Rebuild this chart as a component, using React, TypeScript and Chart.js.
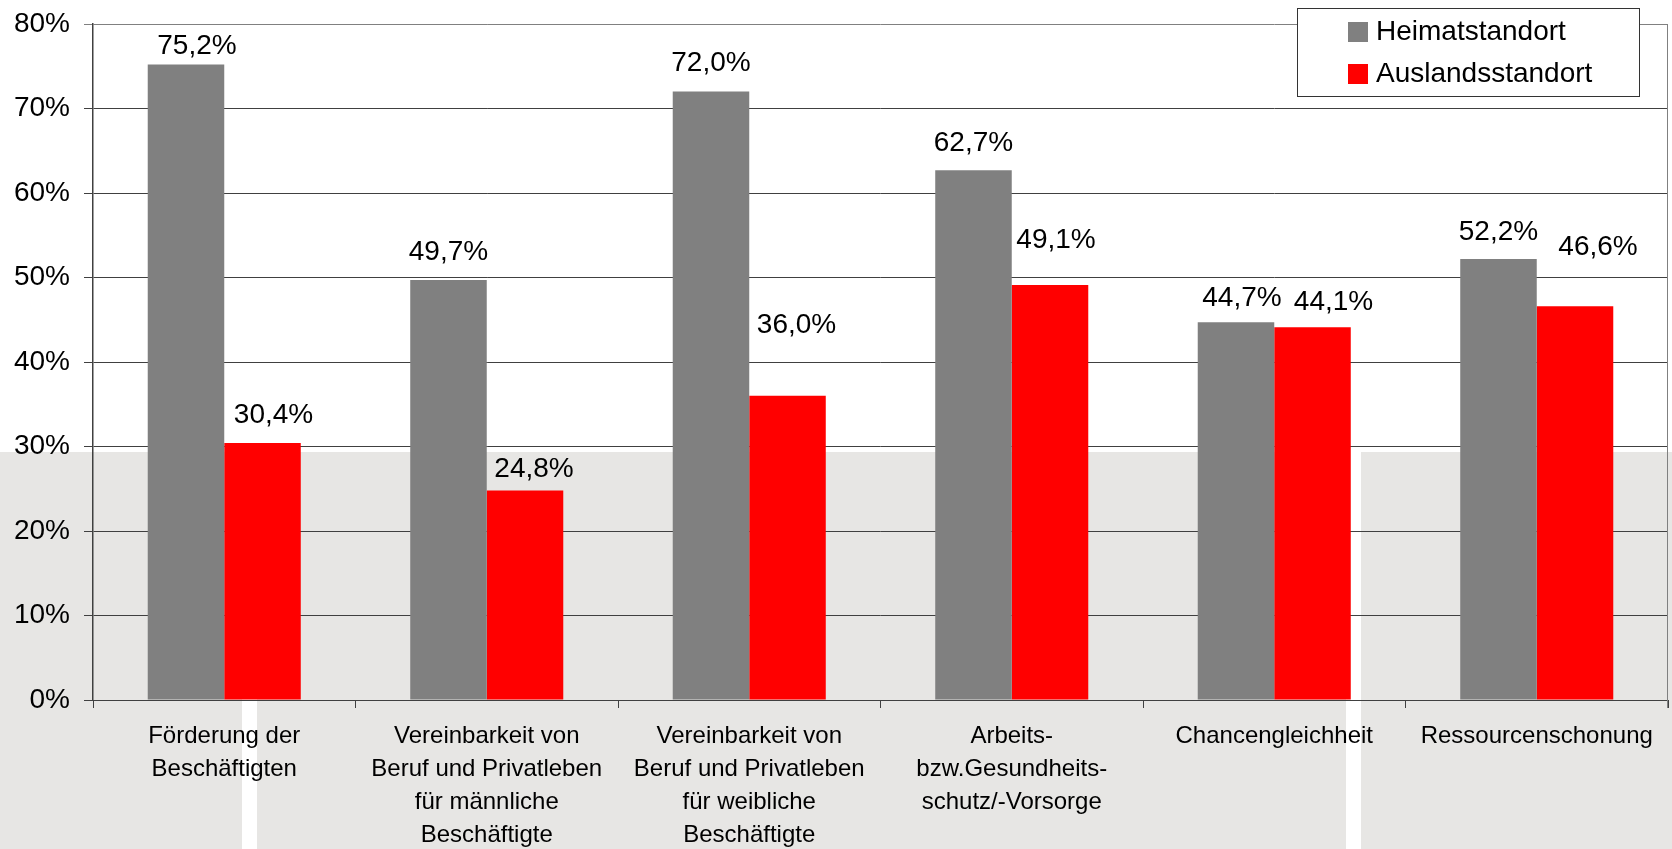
import React, { useEffect, useRef } from 'react';
import { Chart, registerables } from 'chart.js';

Chart.register(...registerables);

// Category labels (multi-line)
const categories: string[][] = [
  ['Förderung der', 'Beschäftigten'],
  ['Vereinbarkeit von', 'Beruf und Privatleben', 'für männliche', 'Beschäftigte'],
  ['Vereinbarkeit von', 'Beruf und Privatleben', 'für weibliche', 'Beschäftigte'],
  ['Arbeits-', 'bzw.Gesundheits-', 'schutz/-Vorsorge'],
  ['Chancengleichheit'],
  ['Ressourcenschonung'],
];

const seriesNames = ['Heimatstandort', 'Auslandsstandort'];

// Shares in percent
const heimatValues = [75.2, 49.7, 72.0, 62.7, 44.7, 52.2];
const auslandValues = [30.4, 24.8, 36.0, 49.1, 44.1, 46.6];

const yMin = 0;
const yMax = 80;
const yStep = 10;

const seriesColors = ['#808080', '#FF0000'];

// Hand-placed value labels: [dx, dy] in px relative to the top centre of each bar
const labelOffsets: [number, number][][] = [
  [[11, -18], [0, -28], [0, -28], [0, -27], [6, -24], [0, -27]],
  [[11, -28], [9, -21], [9, -71], [6, -45], [21, -25], [23, -59]],
];

const FONT = '"Liberation Sans", Arial, Helvetica, sans-serif';

const fmt = (v: number) => v.toFixed(1).replace('.', ',') + '%';

const valueLabels = {
  id: 'valueLabels',
  afterDatasetsDraw(chart: any) {
    const ctx = chart.ctx;
    ctx.save();
    ctx.font = `28px ${FONT}`;
    ctx.fillStyle = '#000';
    ctx.textAlign = 'center';
    ctx.textBaseline = 'middle';
    chart.data.datasets.forEach((ds: any, i: number) => {
      const meta = chart.getDatasetMeta(i);
      meta.data.forEach((bar: any, j: number) => {
        const [dx, dy] = labelOffsets[i][j];
        ctx.fillText(fmt(ds.data[j]), bar.x + dx, bar.y + dy);
      });
    });
    ctx.restore();
  },
};

// Right frame line and the boxed legend in the upper right corner
const frameAndLegend = {
  id: 'frameAndLegend',
  afterDraw(chart: any) {
    const ctx = chart.ctx;
    const area = chart.chartArea;
    ctx.save();
    ctx.strokeStyle = '#808080';
    ctx.lineWidth = 1;
    ctx.beginPath();
    ctx.moveTo(Math.round(area.right) - 0.5, area.top);
    ctx.lineTo(Math.round(area.right) - 0.5, area.bottom + 8);
    ctx.stroke();

    const boxX = 1297;
    const boxY = 8;
    const boxW = 342;
    const boxH = 88;
    ctx.fillStyle = '#fff';
    ctx.fillRect(boxX, boxY, boxW, boxH);
    ctx.strokeStyle = '#333';
    ctx.strokeRect(boxX + 0.5, boxY + 0.5, boxW, boxH);

    ctx.font = `28px ${FONT}`;
    ctx.textAlign = 'left';
    ctx.textBaseline = 'middle';
    chart.data.datasets.forEach((ds: any, i: number) => {
      const cy = 32 + i * 42;
      ctx.fillStyle = ds.backgroundColor;
      ctx.fillRect(1348, cy - 10, 20, 20);
      ctx.fillStyle = '#000';
      ctx.fillText(ds.label, 1376, cy);
    });
    ctx.restore();
  },
};

export default function App() {
  const canvasRef = useRef<HTMLCanvasElement | null>(null);

  useEffect(() => {
    if (!canvasRef.current) return;
    const chart = new Chart(canvasRef.current, {
      type: 'bar',
      data: {
        labels: categories,
        datasets: [
          {
            label: seriesNames[0],
            data: heimatValues,
            backgroundColor: seriesColors[0],
            borderWidth: 0,
            categoryPercentage: 0.583,
            barPercentage: 1,
          },
          {
            label: seriesNames[1],
            data: auslandValues,
            backgroundColor: seriesColors[1],
            borderWidth: 0,
            categoryPercentage: 0.583,
            barPercentage: 1,
          },
        ],
      },
      options: {
        responsive: false,
        animation: false,
        devicePixelRatio: 1,
        layout: { padding: { top: 24, right: 4, left: 0, bottom: 0 } },
        plugins: {
          legend: { display: false },
          tooltip: { enabled: false },
        },
        scales: {
          x: {
            offset: true,
            grid: {
              offset: true,
              drawOnChartArea: false,
              drawTicks: true,
              tickLength: 8,
              color: '#404040',
            },
            border: { display: true, color: '#404040', width: 1 },
            ticks: {
              color: '#000',
              maxRotation: 0,
              autoSkip: false,
              padding: 12,
              font: { family: FONT, size: 24, lineHeight: 1.375 },
            },
            afterFit(scale: any) {
              scale.height = 149;
            },
          },
          y: {
            min: yMin,
            max: yMax,
            ticks: {
              stepSize: yStep,
              color: '#000',
              padding: 14,
              font: { family: FONT, size: 28 },
              callback: (v: any) => v + '%',
            },
            grid: {
              color: (c: any) => (c.tick && c.tick.value === yMax ? '#808080' : '#404040'),
              lineWidth: 1,
              drawTicks: true,
              tickLength: 9,
            },
            border: { display: true, color: '#404040', width: 1.5 },
            afterFit(scale: any) {
              scale.width = 93;
              scale.paddingTop = 0;
              scale.paddingBottom = 0;
            },
          },
        },
      },
      plugins: [valueLabels, frameAndLegend],
    } as any);
    return () => chart.destroy();
  }, []);

  const grey = '#e7e6e4';
  return (
    <div
      style={{
        position: 'absolute',
        left: 0,
        top: 0,
        width: 1672,
        height: 849,
        background: '#fff',
        overflow: 'hidden',
      }}
    >
      <div style={{ position: 'absolute', left: 0, top: 452, width: 242, height: 397, background: grey }} />
      <div style={{ position: 'absolute', left: 257, top: 452, width: 1089, height: 397, background: grey }} />
      <div style={{ position: 'absolute', left: 1361, top: 452, width: 311, height: 397, background: grey }} />
      <canvas
        ref={canvasRef}
        width={1672}
        height={849}
        style={{ position: 'absolute', left: 0, top: 0, width: 1672, height: 849 }}
      />
    </div>
  );
}
